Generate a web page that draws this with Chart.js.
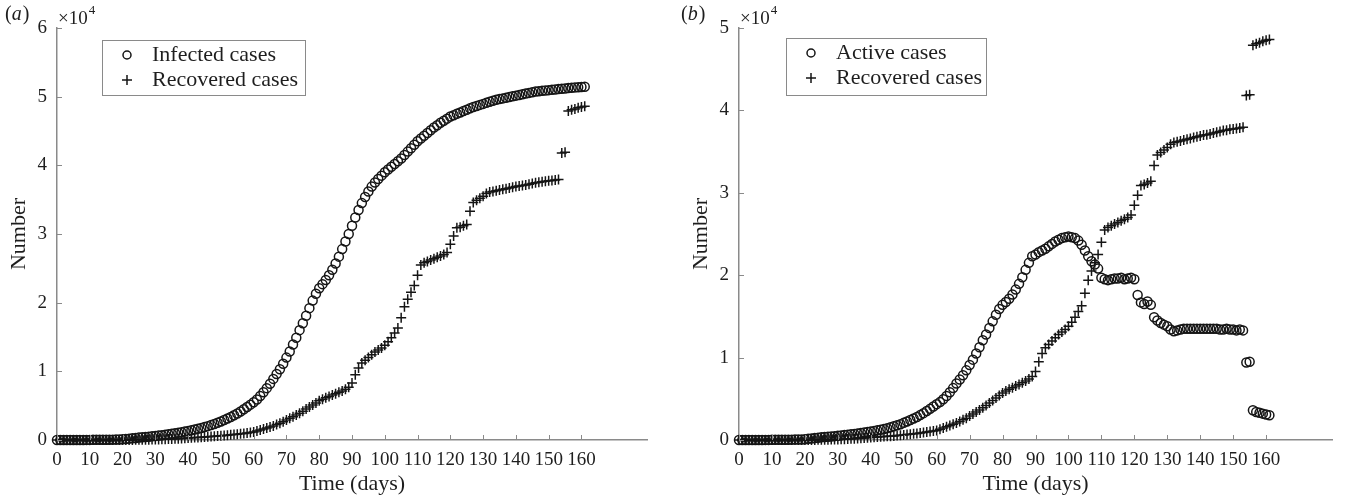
<!DOCTYPE html>
<html>
<head>
<meta charset="utf-8">
<script src="https://cdn.jsdelivr.net/npm/chart.js@4.4.1/dist/chart.umd.min.js"></script>
<style>
  body { margin: 0; background: #fff; }
  #wrap { position: relative; width: 1346px; height: 498px; }
  canvas { position: absolute; top: 0; }
</style>
</head>
<body>
<div id="wrap">
  <canvas id="chartA" width="673" height="498" style="left:0"></canvas>
  <canvas id="chartB" width="673" height="498" style="left:673px"></canvas>
</div>
<script>
// day index 0..161
const days = Array.from({ length: 162 }, (_, i) => i);

const infected = [
  1, 1, 2, 3, 4, 5, 7, 9, 11, 14,
  17, 20, 24, 28, 33, 38, 44, 50, 58, 66,
  100, 150, 200, 250, 300, 350, 400, 440, 480, 530,
  580, 640, 700, 760, 830, 900, 980, 1060, 1140, 1230,
  1320, 1420, 1520, 1630, 1750, 1880, 2020, 2170, 2330, 2500,
  2700, 2900, 3120, 3350, 3600, 3870, 4160, 4470, 4800, 5150,
  5500, 5900, 6400, 6950, 7550, 8200, 8900, 9600, 10300, 11100,
  12000, 12900, 13900, 14900, 16000, 17000, 18100, 19200, 20300, 21300,
  22100, 22700, 23300, 24000, 24800, 25700, 26700, 27800, 28900, 30000,
  31200, 32400, 33500, 34500, 35400, 36200, 36900, 37500, 38000, 38500,
  39000, 39400, 39800, 40200, 40600, 41000, 41500, 42000, 42500, 43000,
  43500, 43900, 44300, 44700, 45100, 45500, 45850, 46200, 46500, 46800,
  47100, 47300, 47500, 47700, 47900, 48100, 48300, 48500, 48650, 48800,
  48950, 49100, 49250, 49400, 49550, 49650, 49750, 49850, 49950, 50050,
  50150, 50250, 50350, 50450, 50550, 50650, 50750, 50800, 50850, 50900,
  50950, 51000, 51050, 51100, 51150, 51200, 51250, 51300, 51350, 51380,
  51420, 51450
];

const recovered = [
  0, 0, 0, 0, 0, 0, 0, 0, 0, 0,
  0, 0, 0, 0, 0, 0, 1, 2, 3, 4,
  5, 8, 10, 15, 20, 25, 30, 40, 50, 60,
  70, 80, 100, 120, 140, 160, 180, 200, 230, 260,
  290, 320, 350, 380, 410, 440, 470, 500, 540, 580,
  620, 660, 700, 750, 800, 850, 900, 960, 1020, 1080,
  1150, 1300, 1450, 1600, 1750, 1900, 2050, 2250, 2450, 2650,
  2900, 3150, 3400, 3650, 3900, 4200, 4500, 4800, 5100, 5400,
  5700, 5950, 6150, 6350, 6550, 6750, 6950, 7150, 7400, 7700,
  8300, 9500, 10500, 11200, 11600, 12000, 12400, 12800, 13100, 13400,
  13800, 14300, 14900, 15600, 16300, 17800, 19400, 20500, 21500, 22500,
  24000, 25500, 25800, 26000, 26200, 26400, 26600, 26800, 27000, 27300,
  28500, 29700, 30900, 31000, 31200, 31400, 33300, 34600, 34900, 35200,
  35500, 35900, 36100, 36200, 36300, 36400, 36500, 36600, 36700, 36800,
  36900, 37000, 37050, 37150, 37250, 37350, 37450, 37550, 37600, 37700,
  37750, 37800, 37850, 37950, 41800, 41900, 47900, 48100, 48200, 48400,
  48500, 48600
];

const active = [
  1, 1, 2, 3, 4, 5, 7, 9, 11, 14,
  17, 20, 24, 28, 33, 38, 43, 48, 55, 62,
  95, 142, 190, 235, 280, 325, 370, 400, 430, 470,
  510, 560, 600, 640, 690, 740, 800, 860, 910, 970,
  1030, 1100, 1170, 1250, 1340, 1440, 1550, 1670, 1790, 1920,
  2080, 2240, 2420, 2600, 2800, 3020, 3260, 3510, 3780, 4070,
  4350, 4600, 4950, 5350, 5800, 6300, 6850, 7350, 7850, 8450,
  9100, 9750, 10500, 11250, 12100, 12800, 13600, 14400, 15200, 15900,
  16400, 16750, 17150, 17650, 18250, 18950, 19750, 20650, 21500, 22300,
  22500, 22800, 23000, 23200, 23500, 23800, 24100, 24300, 24500, 24600,
  24700, 24600, 24500, 24200, 23700, 23000, 22300, 21700, 21300, 20800,
  19700, 19500, 19400, 19500, 19600, 19600, 19700, 19500, 19600, 19700,
  19500, 17600, 16700, 16500, 16800, 16400, 14900, 14500, 14200, 14000,
  13800, 13400, 13200, 13300, 13400, 13500, 13500, 13500, 13500, 13500,
  13500, 13500, 13500, 13500, 13500, 13500, 13400, 13400, 13500, 13400,
  13400, 13300, 13400, 13300, 9400, 9500, 3600, 3400, 3300, 3200,
  3100, 3000
];

const xTicks = [0, 10, 20, 30, 40, 50, 60, 70, 80, 90, 100, 110, 120, 130, 140, 150, 160];
const yTicksA = [0, 1, 2, 3, 4, 5, 6];
const yTicksB = [0, 1, 2, 3, 4, 5];

const FONT = "'Liberation Serif', 'Times New Roman', serif";
const TEXT = "#1e1e1e";
const AXIS = "#8a8a8a";
const INK = "#151515";

function toPoints(values) {
  return values.map((v, i) => ({ x: days[i], y: v }));
}

// panel letter, x10^4 note, inward ticks and the boxed legend
function decorPlugin(p) {
  return {
    id: "decor",
    afterDraw(chart) {
      const ctx = chart.ctx;
      const area = chart.chartArea;
      const xs = chart.scales.x;
      const ys = chart.scales.y;
      ctx.save();

      ctx.strokeStyle = AXIS;
      ctx.lineWidth = 1;
      for (const v of xTicks) {
        const px = Math.round(xs.getPixelForValue(v)) + 0.5;
        ctx.beginPath();
        ctx.moveTo(px, area.bottom);
        ctx.lineTo(px, area.bottom - 5);
        ctx.stroke();
      }
      for (const v of p.yTicks) {
        const py = Math.round(ys.getPixelForValue(v * 1e4)) + 0.5;
        ctx.beginPath();
        ctx.moveTo(area.left, py);
        ctx.lineTo(area.left + 5, py);
        ctx.stroke();
      }

      ctx.fillStyle = TEXT;
      ctx.textBaseline = "middle";
      ctx.textAlign = "left";
      let lx = p.labelX;
      ctx.font = `20px ${FONT}`;
      ctx.fillText("(", lx, 15);
      lx += ctx.measureText("(").width;
      ctx.font = `italic 20px ${FONT}`;
      ctx.fillText(p.letter, lx, 15);
      lx += ctx.measureText(p.letter).width + 1;
      ctx.font = `20px ${FONT}`;
      ctx.fillText(")", lx, 15);

      ctx.font = `19px ${FONT}`;
      ctx.fillText("\u00d710", area.left + 1, 19);
      const w = ctx.measureText("\u00d710").width;
      ctx.font = `13px ${FONT}`;
      ctx.fillText("4", area.left + 2 + w, 11);

      const b = p.box;
      ctx.strokeStyle = AXIS;
      ctx.lineWidth = 1;
      ctx.fillStyle = "#fff";
      ctx.fillRect(b.x, b.y, b.w, b.h);
      ctx.strokeRect(b.x + 0.5, b.y + 0.5, b.w, b.h);

      ctx.strokeStyle = INK;
      ctx.lineWidth = 1.5;
      ctx.beginPath();
      ctx.arc(b.x + 25, b.y + 15, 4, 0, Math.PI * 2);
      ctx.stroke();
      ctx.beginPath();
      ctx.moveTo(b.x + 20, b.y + 40);
      ctx.lineTo(b.x + 30, b.y + 40);
      ctx.moveTo(b.x + 25, b.y + 35);
      ctx.lineTo(b.x + 25, b.y + 45);
      ctx.stroke();

      ctx.fillStyle = TEXT;
      ctx.font = `22px ${FONT}`;
      ctx.fillText(p.names[0], b.x + 50, b.y + 15);
      ctx.fillText(p.names[1], b.x + 50, b.y + 40);
      ctx.restore();
    }
  };
}

function makePanel(canvasId, p) {
  const ctx = document.getElementById(canvasId).getContext("2d");
  return new Chart(ctx, {
    type: "scatter",
    data: {
      datasets: [
        {
          label: p.names[0],
          data: toPoints(p.first),
          pointStyle: "circle",
          pointRadius: 4.5,
          borderWidth: 1.5,
          borderColor: INK,
          backgroundColor: "rgba(0,0,0,0)",
          clip: false
        },
        {
          label: p.names[1],
          data: toPoints(recovered),
          pointStyle: "cross",
          pointRadius: 5,
          borderWidth: 1.5,
          borderColor: INK,
          backgroundColor: INK,
          clip: false
        }
      ]
    },
    options: {
      responsive: false,
      animation: false,
      layout: { padding: { top: 28, right: 673 - p.right, left: 0, bottom: 0 } },
      plugins: { legend: { display: false }, tooltip: { enabled: false } },
      scales: {
        x: {
          type: "linear",
          min: 0,
          max: 180,
          afterBuildTicks: (s) => { s.ticks = xTicks.map((v) => ({ value: v })); },
          afterFit: (s) => { s.height = 58; },
          grid: { display: false, drawTicks: false },
          border: { display: true, color: AXIS, width: 1.5 },
          ticks: { padding: 9, color: TEXT, maxRotation: 0, autoSkip: false, font: { family: FONT, size: 19 } },
          title: { display: true, text: "Time (days)", color: TEXT, font: { family: FONT, size: 22 }, padding: { top: 0, bottom: 1 } }
        },
        y: {
          min: 0,
          max: p.yMax * 1e4,
          afterBuildTicks: (s) => { s.ticks = p.yTicks.map((v) => ({ value: v * 1e4 })); },
          afterFit: (s) => { s.width = p.left; },
          grid: { display: false, drawTicks: false },
          border: { display: true, color: AXIS, width: 1.5 },
          ticks: { padding: 10, color: TEXT, callback: (v) => v / 1e4, font: { family: FONT, size: 19 } },
          title: { display: true, text: "Number", color: TEXT, font: { family: FONT, size: 22 }, padding: { top: p.titleGap, bottom: 0 } }
        }
      }
    },
    plugins: [decorPlugin(p)]
  });
}

document.addEventListener("DOMContentLoaded", () => {
  makePanel("chartA", {
    letter: "a",
    labelX: 5,
    left: 57,
    right: 647,
    yMax: 6,
    yTicks: yTicksA,
    titleGap: 6,
    first: infected,
    names: ["Infected cases", "Recovered cases"],
    box: { x: 102, y: 40, w: 203, h: 55 }
  });
  makePanel("chartB", {
    letter: "b",
    labelX: 8,
    left: 66,
    right: 659,
    yMax: 5,
    yTicks: yTicksB,
    titleGap: 15,
    first: active,
    names: ["Active cases", "Recovered cases"],
    box: { x: 113, y: 38, w: 200, h: 57 }
  });
});
</script>
</body>
</html>
